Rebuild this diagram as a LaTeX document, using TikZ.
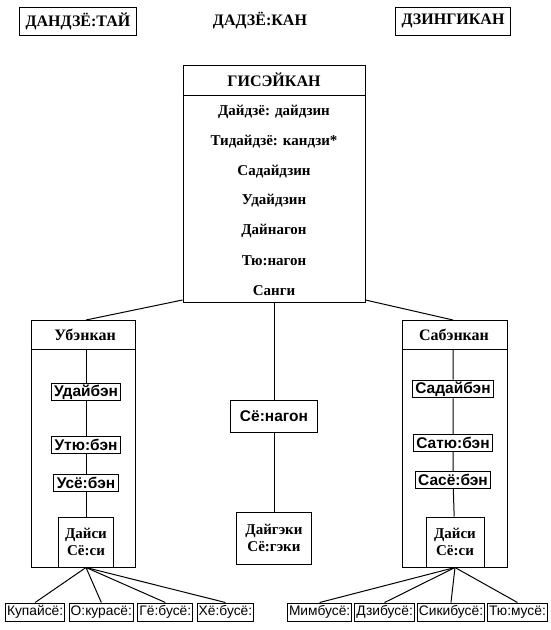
\documentclass[tikz,border=0pt]{standalone}
\usepackage{fontspec}
\setmainfont{Liberation Serif}
\newfontfamily\officesans{Liberation Sans}
\usetikzlibrary{positioning}
\newcommand{\headfont}{\bfseries\fontsize{16}{18}\selectfont}
\newcommand{\rankfont}{\bfseries\fontsize{15}{16.5}\selectfont}
\newcommand{\officefont}{\officesans\bfseries\fontsize{15.5}{17}\selectfont}
\newcommand{\postfont}{\officesans\fontsize{13.8}{16}\selectfont}
\newcommand{\framewidth}{1pt}

\begin{document}
\begin{tikzpicture}[x=1pt, y=-1pt, line width=\framewidth,
		frame/.style={draw, inner sep=0pt},
		titlebox/.style={draw, font=\headfont, inner xsep=6pt, minimum height=28pt},
		office/.style={draw, font=\officefont, inner xsep=3pt, inner ysep=1.5pt, minimum height=17pt},
		post/.style={draw, font=\postfont, inner sep=1.5pt, minimum height=18pt}]
	\useasboundingbox (0, 0) rectangle (550, 630);

	\node[titlebox] (dandzetai) at (78, 21) {ДАНДЗЁ:ТАЙ};
	\node[font=\headfont] (dadzekan) at (260, 21) {ДАДЗЁ:КАН};
	\node[titlebox] (dzingikan) at (453, 21) {ДЗИНГИКАН};

	\node[frame, minimum width=182pt, minimum height=237pt, anchor=north] (gisejkan) at (274, 65) {};
	\node[font=\headfont] (gisejkanhead) at (274, 80) {ГИСЭЙКАН};
	\draw ([yshift=-30pt]gisejkan.north west) -- ([yshift=-30pt]gisejkan.north east);
	\foreach \rank [count=\i from 0] in {Дайдзё: дайдзин, Тидайдзё: кандзи*, Садайдзин,
			Удайдзин, Дайнагон, Тю:нагон, Санги}
		\node[font=\rankfont] (rank\i) at (274, 112 + 29.7*\i) {\rank};

	\node[frame, minimum width=104pt, minimum height=247pt, anchor=north] (ubenkan) at (83, 320) {};
	\node[font=\headfont] (ubenkanhead) at (85, 335) {Убэнкан};
	\draw ([yshift=-29pt]ubenkan.north west) -- ([yshift=-29pt]ubenkan.north east);
	\node[office] (udaiben) at (86, 392) {Удайбэн};
	\node[office] (utyuben) at (86, 445) {Утю:бэн};
	\node[office] (usjoben) at (86, 483) {Усё:бэн};
	\node[draw, font=\rankfont, align=center, inner sep=2pt, minimum width=55pt, minimum height=50pt] (daisiu) at (86, 542) {Дайси\\Сё:си};
	\coordinate (ubtop) at (ubenkan.north -| udaiben);
	\draw ([yshift=-29pt]ubtop) -- (udaiben) -- (utyuben) -- (usjoben) -- (daisiu);

	\node[frame, minimum width=105pt, minimum height=247pt, anchor=north] (sabenkan) at (454.5, 320) {};
	\node[font=\headfont] (sabenkanhead) at (454, 335) {Сабэнкан};
	\draw ([yshift=-29pt]sabenkan.north west) -- ([yshift=-29pt]sabenkan.north east);
	\node[office] (sadaiben) at (453, 389) {Садайбэн};
	\node[office] (satyuben) at (453, 443) {Сатю:бэн};
	\node[office] (sasjoben) at (453, 480) {Сасё:бэн};
	\node[draw, font=\rankfont, align=center, inner sep=2pt, minimum width=58pt, minimum height=50pt] (daisis) at (455, 542) {Дайси\\Сё:си};
	\coordinate (sbtop) at (sabenkan.north -| sadaiben);
	\draw ([yshift=-29pt]sbtop) -- (sadaiben) -- (satyuben) -- (sasjoben) -- (daisis);

	\draw ([yshift=3pt]gisejkan.south west) -- (ubtop);
	\draw ([yshift=3pt]gisejkan.south east) -- (sbtop);

	\node[office, minimum width=87pt, minimum height=32pt] (sjonagon) at (274, 416) {Сё:нагон};
	\node[draw, font=\rankfont, align=center, inner sep=2pt, minimum width=75pt, minimum height=52pt] (daigeki) at (274, 538) {Дайгэки\\Сё:гэки};
	\draw (gisejkan) -- (sjonagon) -- (daigeki);

	\node[post, anchor=west] (kupaisjo) at (5, 612) {Купайсё:};
	\node[post, right=3.5pt of kupaisjo] (okurasjo) {О:курасё:};
	\node[post, right=3.5pt of okurasjo] (gjobusjo) {Гё:бусё:};
	\node[post, right=3.5pt of gjobusjo] (hjobusjo) {Хё:бусё:};
	\foreach \b in {kupaisjo, okurasjo, gjobusjo, hjobusjo}
		\draw (daisiu.south) -- (\b.north);

	\node[post, anchor=west] (mimbusjo) at (287, 612) {Мимбусё:};
	\node[post, right=2pt of mimbusjo] (dzibusjo) {Дзибусё:};
	\node[post, right=2pt of dzibusjo] (sikibusjo) {Сикибусё:};
	\node[post, right=2pt of sikibusjo] (tyumusjo) {Тю:мусё:};
	\foreach \b in {mimbusjo, dzibusjo, sikibusjo, tyumusjo}
		\draw (daisis.south) -- (\b.north);
\end{tikzpicture}
\end{document}
